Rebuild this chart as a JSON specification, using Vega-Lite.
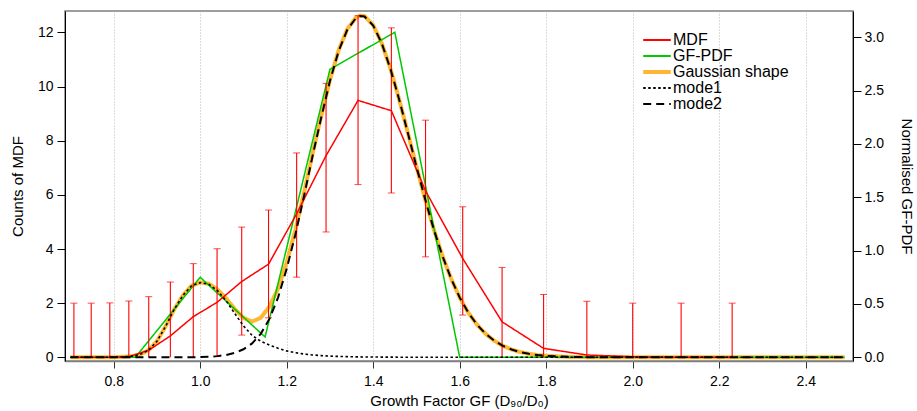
{
  "$schema": "https://vega.github.io/schema/vega-lite/v6.json",
  "width": 788,
  "height": 350,
  "autosize": {"type": "none"},
  "padding": {"left": 65, "top": 11, "right": 64, "bottom": 50},
  "datasets": {
    "mdf": [
      {"x": 0.708, "y": 0, "lo": 0, "hi": 2.0},
      {"x": 0.748, "y": 0, "lo": 0, "hi": 2.0},
      {"x": 0.791, "y": 0, "lo": 0, "hi": 2.01},
      {"x": 0.835, "y": 0.02, "lo": 0, "hi": 2.08},
      {"x": 0.881, "y": 0.26, "lo": 0, "hi": 2.24},
      {"x": 0.931, "y": 0.79, "lo": 0, "hi": 2.78},
      {"x": 0.984, "y": 1.5, "lo": 0, "hi": 3.46},
      {"x": 1.039, "y": 2.03, "lo": 0.03, "hi": 4.01},
      {"x": 1.096, "y": 2.8, "lo": 0.82, "hi": 4.81},
      {"x": 1.158, "y": 3.44, "lo": 1.46, "hi": 5.44},
      {"x": 1.223, "y": 5.3, "lo": 2.96, "hi": 7.55},
      {"x": 1.291, "y": 7.45, "lo": 4.63, "hi": 10.12},
      {"x": 1.365, "y": 9.49, "lo": 6.38, "hi": 12.62},
      {"x": 1.442, "y": 9.11, "lo": 6.07, "hi": 12.17},
      {"x": 1.521, "y": 6.15, "lo": 3.71, "hi": 8.76},
      {"x": 1.607, "y": 3.65, "lo": 1.56, "hi": 5.56},
      {"x": 1.698, "y": 1.31, "lo": 0, "hi": 3.32},
      {"x": 1.794, "y": 0.33, "lo": 0, "hi": 2.32},
      {"x": 1.894, "y": 0.085, "lo": 0, "hi": 2.07},
      {"x": 2.0, "y": 0.02, "lo": 0, "hi": 2.0},
      {"x": 2.112, "y": 0, "lo": 0, "hi": 2.0},
      {"x": 2.23, "y": 0, "lo": 0, "hi": 2.0}
    ],
    "gf": [
      {"x": 0.7, "pdf": 0},
      {"x": 0.85, "pdf": 0},
      {"x": 1.0, "pdf": 0.75},
      {"x": 1.15, "pdf": 0.19},
      {"x": 1.3, "pdf": 2.7},
      {"x": 1.45, "pdf": 3.047},
      {"x": 1.6, "pdf": 0},
      {"x": 1.75, "pdf": 0},
      {"x": 1.9, "pdf": 0},
      {"x": 2.05, "pdf": 0},
      {"x": 2.2, "pdf": 0},
      {"x": 2.35, "pdf": 0},
      {"x": 2.49, "pdf": 0}
    ],
    "curves": [
      {"x": 0.7, "m1": 0, "m2": 0, "gauss": 0},
      {"x": 0.75, "m1": 0, "m2": 0, "gauss": 0},
      {"x": 0.8, "m1": 0.001, "m2": 0, "gauss": 0.001},
      {"x": 0.82, "m1": 0.004, "m2": 0, "gauss": 0.004},
      {"x": 0.84, "m1": 0.01, "m2": 0, "gauss": 0.01},
      {"x": 0.86, "m1": 0.025, "m2": 0, "gauss": 0.025},
      {"x": 0.88, "m1": 0.065, "m2": 0, "gauss": 0.065},
      {"x": 0.9, "m1": 0.15, "m2": 0, "gauss": 0.15},
      {"x": 0.92, "m1": 0.29, "m2": 0, "gauss": 0.29},
      {"x": 0.94, "m1": 0.45, "m2": 0, "gauss": 0.45},
      {"x": 0.96, "m1": 0.58, "m2": 0, "gauss": 0.58},
      {"x": 0.98, "m1": 0.67, "m2": 0.001, "gauss": 0.671},
      {"x": 1.0, "m1": 0.7, "m2": 0.002, "gauss": 0.702},
      {"x": 1.02, "m1": 0.685, "m2": 0.005, "gauss": 0.69},
      {"x": 1.04, "m1": 0.625, "m2": 0.011, "gauss": 0.636},
      {"x": 1.06, "m1": 0.53, "m2": 0.022, "gauss": 0.552},
      {"x": 1.08, "m1": 0.41, "m2": 0.042, "gauss": 0.452},
      {"x": 1.1, "m1": 0.295, "m2": 0.075, "gauss": 0.37},
      {"x": 1.12, "m1": 0.205, "m2": 0.13, "gauss": 0.335},
      {"x": 1.14, "m1": 0.15, "m2": 0.22, "gauss": 0.37},
      {"x": 1.16, "m1": 0.115, "m2": 0.36, "gauss": 0.475},
      {"x": 1.18, "m1": 0.085, "m2": 0.56, "gauss": 0.645},
      {"x": 1.2, "m1": 0.06, "m2": 0.83, "gauss": 0.89},
      {"x": 1.22, "m1": 0.043, "m2": 1.15, "gauss": 1.193},
      {"x": 1.24, "m1": 0.031, "m2": 1.51, "gauss": 1.541},
      {"x": 1.26, "m1": 0.022, "m2": 1.89, "gauss": 1.912},
      {"x": 1.28, "m1": 0.016, "m2": 2.25, "gauss": 2.266},
      {"x": 1.3, "m1": 0.011, "m2": 2.59, "gauss": 2.601},
      {"x": 1.32, "m1": 0.008, "m2": 2.87, "gauss": 2.878},
      {"x": 1.34, "m1": 0.006, "m2": 3.07, "gauss": 3.076},
      {"x": 1.36, "m1": 0.004, "m2": 3.18, "gauss": 3.184},
      {"x": 1.37, "m1": 0.004, "m2": 3.2, "gauss": 3.204},
      {"x": 1.38, "m1": 0.003, "m2": 3.195, "gauss": 3.198},
      {"x": 1.4, "m1": 0.003, "m2": 3.111, "gauss": 3.114},
      {"x": 1.42, "m1": 0.002, "m2": 2.941, "gauss": 2.943},
      {"x": 1.44, "m1": 0.002, "m2": 2.703, "gauss": 2.705},
      {"x": 1.46, "m1": 0.001, "m2": 2.417, "gauss": 2.418},
      {"x": 1.48, "m1": 0.001, "m2": 2.105, "gauss": 2.106},
      {"x": 1.5, "m1": 0.001, "m2": 1.788, "gauss": 1.789},
      {"x": 1.52, "m1": 0.001, "m2": 1.483, "gauss": 1.484},
      {"x": 1.54, "m1": 0, "m2": 1.201, "gauss": 1.201},
      {"x": 1.56, "m1": 0, "m2": 0.952, "gauss": 0.952},
      {"x": 1.58, "m1": 0, "m2": 0.739, "gauss": 0.739},
      {"x": 1.6, "m1": 0, "m2": 0.561, "gauss": 0.561},
      {"x": 1.62, "m1": 0, "m2": 0.418, "gauss": 0.418},
      {"x": 1.64, "m1": 0, "m2": 0.306, "gauss": 0.306},
      {"x": 1.66, "m1": 0, "m2": 0.22, "gauss": 0.22},
      {"x": 1.68, "m1": 0, "m2": 0.155, "gauss": 0.155},
      {"x": 1.7, "m1": 0, "m2": 0.107, "gauss": 0.107},
      {"x": 1.72, "m1": 0, "m2": 0.073, "gauss": 0.073},
      {"x": 1.74, "m1": 0, "m2": 0.049, "gauss": 0.049},
      {"x": 1.76, "m1": 0, "m2": 0.033, "gauss": 0.033},
      {"x": 1.78, "m1": 0, "m2": 0.021, "gauss": 0.021},
      {"x": 1.8, "m1": 0, "m2": 0.014, "gauss": 0.014},
      {"x": 1.85, "m1": 0, "m2": 0.004, "gauss": 0.004},
      {"x": 1.9, "m1": 0, "m2": 0.001, "gauss": 0.001},
      {"x": 2.0, "m1": 0, "m2": 0, "gauss": 0},
      {"x": 2.2, "m1": 0, "m2": 0, "gauss": 0},
      {"x": 2.49, "m1": 0, "m2": 0, "gauss": 0}
    ]
  },
  "encoding": {
    "x": {
      "field": "x",
      "type": "quantitative",
      "title": "Growth Factor GF (D₉₀/D₀)",
      "scale": {"domain": [0.6874, 2.5094], "zero": false, "nice": false},
      "axis": {"values": [0.8, 1.0, 1.2, 1.4, 1.6, 1.8, 2.0, 2.2, 2.4], "format": ".1f"}
    }
  },
  "layer": [
    {
      "layer": [
        {
          "data": {"name": "curves"},
          "mark": {"type": "line", "strokeCap": "butt", "strokeWidth": 4},
          "encoding": {
            "y": {
              "field": "gauss",
              "type": "quantitative",
              "title": "Normalised GF-PDF",
              "scale": {"domain": [-0.0347, 3.2466], "zero": false, "nice": false},
              "axis": {"orient": "right", "values": [0, 0.5, 1.0, 1.5, 2.0, 2.5, 3.0], "format": ".1f", "labelPadding": 3, "titlePadding": 15}
            },
            "color": {
              "datum": "Gaussian shape",
              "type": "nominal",
              "scale": {"domain": ["MDF", "GF-PDF", "Gaussian shape", "mode1", "mode2"], "range": ["#ff0000", "#00c800", "#ffb732", "#000000", "#000000"]},
              "legend": {
                "title": null,
                "encoding": {
                  "symbols": {
                    "strokeWidth": {"value": {"expr": "datum.value === 'Gaussian shape' ? 4 : 1.8"}}
                  }
                }
              }
            },
            "strokeDash": {
              "datum": "Gaussian shape",
              "type": "nominal",
              "scale": {"domain": ["MDF", "GF-PDF", "Gaussian shape", "mode1", "mode2"], "range": [[1, 0], [1, 0], [1, 0], [2.5, 2.5], [8, 5]]},
              "legend": {
                "title": null,
                "encoding": {
                  "symbols": {
                    "strokeWidth": {"value": {"expr": "datum.value === 'Gaussian shape' ? 4 : 1.8"}}
                  }
                }
              }
            }
          }
        },
        {
          "data": {"name": "gf"},
          "mark": {"type": "line", "strokeWidth": 1.5},
          "encoding": {
            "y": {"field": "pdf", "type": "quantitative", "title": "Normalised GF-PDF"},
            "color": {"datum": "GF-PDF", "type": "nominal"},
            "strokeDash": {"datum": "GF-PDF", "type": "nominal"}
          }
        }
      ]
    },
    {
      "data": {"name": "mdf"},
      "layer": [
        {
          "mark": {"type": "rule", "color": "#ff0000", "strokeWidth": 1.1},
          "encoding": {
            "y": {
              "field": "lo",
              "type": "quantitative",
              "title": "Counts of MDF",
              "scale": {"domain": [-0.137, 12.793], "zero": false, "nice": false},
              "axis": {"orient": "left", "values": [0, 2, 4, 6, 8, 10, 12], "format": "d", "labelPadding": 4, "titlePadding": 12}
            },
            "y2": {"field": "hi"}
          }
        },
        {
          "mark": {"type": "tick", "orient": "horizontal", "color": "#ff0000", "size": 7, "thickness": 1},
          "encoding": {
            "y": {"field": "hi", "type": "quantitative", "title": "Counts of MDF"}
          }
        },
        {
          "transform": [{"filter": "datum.lo > 0.01"}],
          "mark": {"type": "tick", "orient": "horizontal", "color": "#ff0000", "size": 7, "thickness": 1},
          "encoding": {
            "y": {"field": "lo", "type": "quantitative", "title": "Counts of MDF"}
          }
        },
        {
          "mark": {"type": "line", "strokeWidth": 1.5},
          "encoding": {
            "y": {"field": "y", "type": "quantitative", "title": "Counts of MDF"},
            "color": {"datum": "MDF", "type": "nominal"},
            "strokeDash": {"datum": "MDF", "type": "nominal"}
          }
        }
      ]
    },
    {
      "data": {"name": "curves"},
      "layer": [
        {
          "mark": {"type": "line", "strokeCap": "butt", "strokeWidth": 1.6},
          "encoding": {
            "y": {
              "field": "m1",
              "type": "quantitative",
              "scale": {"domain": [-0.0347, 3.2466], "zero": false, "nice": false},
              "axis": null
            },
            "color": {"datum": "mode1", "type": "nominal"},
            "strokeDash": {"datum": "mode1", "type": "nominal"}
          }
        },
        {
          "mark": {"type": "line", "strokeCap": "butt", "strokeWidth": 2},
          "encoding": {
            "y": {"field": "m2", "type": "quantitative", "axis": null},
            "color": {"datum": "mode2", "type": "nominal"},
            "strokeDash": {"datum": "mode2", "type": "nominal"}
          }
        }
      ]
    }
  ],
  "resolve": {"scale": {"y": "independent"}},
  "config": {
    "view": {"stroke": "#7f7f7f", "strokeWidth": 1.5},
    "axis": {
      "labelFont": "Liberation Sans",
      "labelFontSize": 14,
      "labelColor": "#000000",
      "titleFont": "Liberation Sans",
      "titleFontSize": 15,
      "titleFontWeight": "normal",
      "titleColor": "#000000",
      "tickColor": "#000000",
      "domainColor": "#000000",
      "tickSize": 8,
      "grid": false
    },
    "axisX": {
      "grid": true,
      "gridDash": [1, 2],
      "gridColor": "#b8b8b8",
      "domainColor": "#7f7f7f",
      "domainWidth": 1.5,
      "tickColor": "#333333",
      "tickSize": 7,
      "labelPadding": 6,
      "titlePadding": 5
    },
    "legend": {
      "orient": "none",
      "legendX": 584,
      "legendY": 21,
      "symbolType": "stroke",
      "symbolSize": 760,
      "symbolStrokeWidth": 1.8,
      "labelFont": "Liberation Sans",
      "labelFontSize": 16,
      "labelColor": "#000000",
      "labelOffset": 8,
      "rowPadding": -6,
      "padding": 0
    }
  }
}
